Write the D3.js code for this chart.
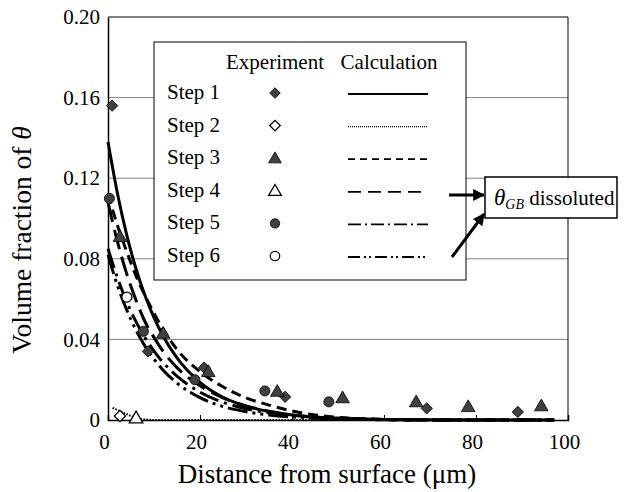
<!DOCTYPE html>
<html><head><meta charset="utf-8">
<script src="https://cdn.jsdelivr.net/npm/d3@7"></script>
<style>body{margin:0;background:#fff}svg{display:block}text{font-family:"Liberation Serif","Times New Roman",serif;fill:#000}</style>
</head><body><svg id="c" width="624" height="492"></svg>
<script>
// ---- data ----
const xTicks = [0, 20, 40, 60, 80, 100];
const yTicks = [0, 0.04, 0.08, 0.12, 0.16, 0.20];
const yTickLabels = ["0", "0.04", "0.08", "0.12", "0.16", "0.20"];
const stepNames = ["Step 1", "Step 2", "Step 3", "Step 4", "Step 5", "Step 6"];
const markerShapes = ["diamond", "diamond", "triangle", "triangle", "circle", "circle"];
const markerFilled = [true, false, true, false, true, false];

const exp1 = [[0.9,0.156],[8.7,0.034],[20.9,0.026],[38.5,0.0115],[69.3,0.0058],[89.1,0.004]];
const exp2 = [[2.6,0.002]];
const exp3 = [[2.6,0.091],[12,0.043],[21.8,0.024],[36.8,0.0142],[51,0.011],[67,0.009],[78.3,0.0066],[94.2,0.007]];
const exp4 = [[6.1,0.001]];
const exp5 = [[0.3,0.110],[7.7,0.044],[18.9,0.020],[34.1,0.0144],[48,0.009]];
const exp6 = [[4.1,0.061]];

const calcX = [0,2,4,6,8,10,12,15,20,25,30,35,40,45,50,55,60,70,80,97];
const calc1 = [0.138,0.113,0.0925,0.0757,0.062,0.0508,0.0416,0.0308,0.0187,0.0113,0.0069,0.0042,0.0025,0.0015,0.0009,0.0006,0.0003,0.0001,0,0];
const calc3 = [0.112,0.097,0.084,0.072,0.062,0.053,0.045,0.035,0.024,0.0165,0.011,0.0074,0.0045,0.0025,0.0013,0.0006,0.0002,0,0,0];
const calc4 = [0.108,0.089,0.073,0.060,0.049,0.041,0.034,0.026,0.017,0.011,0.007,0.0043,0.0025,0.0014,0.0007,0.0003,0.0001,0,0,0];
const calc5 = [0.085,0.0709,0.059,0.0492,0.041,0.0342,0.0285,0.0218,0.0138,0.0088,0.0056,0.0035,0.0022,0.0014,0.0009,0.0006,0.0003,0.0001,0,0];
const calc6 = [0.082,0.0671,0.055,0.045,0.0368,0.0302,0.0247,0.0183,0.0111,0.0067,0.0041,0.0025,0.0015,0.0009,0.0006,0.0003,0.0002,0,0,0];
const calc2X = [1,2,3,4,5,6,8,10,20,40,60,80,97];
const calc2 = [0.006,0.005,0.004,0.003,0.002,0.001,0.0003,0,0,0,0,0,0];

// ---- layout ----
const svg = d3.select("#c");
const L = 108, R = 568, T = 17, B = 420;
const x = d3.scaleLinear().domain([0, 100]).range([L, R]);
const y = d3.scaleLinear().domain([0, 0.20]).range([B, T]);
const FONT = "Liberation Serif";

// gridlines
svg.append("g").selectAll("line").data(yTicks.filter(v => v > 0 && v < 0.2)).join("line")
  .attr("x1", L).attr("x2", R).attr("y1", d => y(d)).attr("y2", d => y(d))
  .attr("stroke", "#808080").attr("stroke-width", 1);
svg.append("line").attr("x1", L).attr("x2", R).attr("y1", T).attr("y2", T).attr("stroke", "#000");
svg.append("line").attr("x1", R).attr("x2", R).attr("y1", T).attr("y2", B).attr("stroke", "#000");

// axes
const xAxis = d3.axisBottom(x).tickValues(xTicks).tickSize(-5).tickFormat(d => d);
const gx = svg.append("g").attr("transform", `translate(0,${B})`).call(xAxis);
gx.select(".domain").attr("stroke", "#000").attr("stroke-width", 1.5);
gx.selectAll(".tick text").attr("font-family", FONT).attr("font-size", 21).attr("dy", "1.25em").attr("dx", -4);
const yAxis = d3.axisLeft(y).tickValues(yTicks).tickSize(0).tickFormat((d, i) => yTickLabels[i]);
const gy = svg.append("g").attr("transform", `translate(${L},0)`).call(yAxis);
gy.select(".domain").attr("stroke", "#000").attr("stroke-width", 1.5);
gy.selectAll(".tick text").attr("font-family", FONT).attr("font-size", 21).attr("dx", -5);

// curves
const line = d3.line().x(d => x(d[0])).y(d => y(d[1])).curve(d3.curveMonotoneX);
const calcSeries = [
  {xs: calcX, ys: calc1, dash: null, w: 3},
  {xs: calc2X, ys: calc2, dash: "1.5,1.5", w: 2},
  {xs: calcX, ys: calc3, dash: "10,6", w: 3},
  {xs: calcX, ys: calc4, dash: "20,8", w: 3},
  {xs: calcX, ys: calc5, dash: "20,6,3,6", w: 3},
  {xs: calcX, ys: calc6, dash: "20,5,3,5,3,5", w: 3}
];
const legendDash = [null, "1,1", "7,5", "13,7", "13,4,2,4", "12,4,2,3,2,4"];
calcSeries.forEach(s => {
  const pts = s.xs.map((v, i) => [v, s.ys[i]]);
  svg.append("path").attr("d", line(pts)).attr("fill", "none").attr("stroke", "#000")
    .attr("stroke-width", s.w).attr("stroke-dasharray", s.dash);
});

// markers
function drawMarker(g, shape, filled, cx, cy, size) {
  const fill = filled ? "#404040" : "#fff";
  let sym, rot = 0;
  if (shape === "diamond") { sym = d3.symbol(d3.symbolSquare, size * 0.8); rot = 45; }
  else if (shape === "triangle") sym = d3.symbol(d3.symbolTriangle, size);
  else sym = d3.symbol(d3.symbolCircle, size);
  g.append("path").attr("d", sym())
    .attr("transform", `translate(${cx},${cy + (shape === "triangle" ? 1 : 0)}) rotate(${rot})`)
    .attr("fill", fill).attr("stroke", "#000").attr("stroke-width", filled ? 0.8 : 1.3);
}
const expSeries = [exp1, exp2, exp3, exp4, exp5, exp6];
const mg = svg.append("g");
expSeries.forEach((arr, i) => arr.forEach(p => drawMarker(mg, markerShapes[i], markerFilled[i], x(p[0]), y(p[1]), 80)));

// axis titles
svg.append("text").attr("x", 327).attr("y", 483).attr("text-anchor", "middle")
  .attr("font-family", FONT).attr("font-size", 27).text("Distance from surface (μm)");
const yt = svg.append("text").attr("transform", "translate(31,240) rotate(-90)").attr("text-anchor", "middle")
  .attr("font-family", FONT).attr("font-size", 27.5);
yt.append("tspan").text("Volume fraction of ");
yt.append("tspan").attr("font-style", "italic").text("θ");

// legend
const lg = svg.append("g");
lg.append("rect").attr("x", 154).attr("y", 42).attr("width", 312).attr("height", 238)
  .attr("fill", "#fff").attr("stroke", "#000").attr("stroke-width", 1);
lg.append("text").attr("x", 275).attr("y", 69).attr("text-anchor", "middle").attr("font-family", FONT).attr("font-size", 21).text("Experiment");
lg.append("text").attr("x", 389).attr("y", 69).attr("text-anchor", "middle").attr("font-family", FONT).attr("font-size", 21).text("Calculation");
stepNames.forEach((n, i) => {
  const cy = 92 + i * 32.6;
  lg.append("text").attr("x", 167).attr("y", cy + 7).attr("font-family", FONT).attr("font-size", 21).text(n);
  drawMarker(lg, markerShapes[i], markerFilled[i], 275, cy + 1, 70);
  lg.append("line").attr("x1", 348).attr("x2", 428).attr("y1", cy + 2).attr("y2", cy + 2)
    .attr("stroke", "#000").attr("stroke-width", i === 1 ? 1.2 : 1.8).attr("stroke-dasharray", legendDash[i]);
});

// annotation
const an = svg.append("g");
an.append("rect").attr("x", 485).attr("y", 177).attr("width", 132).attr("height", 41)
  .attr("fill", "#fff").attr("stroke", "#000").attr("stroke-width", 1.5);
const at = an.append("text").attr("x", 494).attr("y", 205).attr("font-family", FONT).attr("font-size", 21);
at.append("tspan").attr("font-style", "italic").attr("font-size", 23).text("θ");
at.append("tspan").attr("font-style", "italic").attr("font-size", 14).attr("dy", 4).text("GB");
at.append("tspan").attr("dy", -4).text(" dissoluted");
svg.append("defs").append("marker").attr("id", "ah").attr("viewBox", "0 0 10 10").attr("refX", 9).attr("refY", 5)
  .attr("markerWidth", 4).attr("markerHeight", 4).attr("orient", "auto")
  .append("path").attr("d", "M0,0L10,5L0,10z").attr("fill", "#000");
an.append("line").attr("x1", 449).attr("y1", 195).attr("x2", 484).attr("y2", 195)
  .attr("stroke", "#000").attr("stroke-width", 3).attr("marker-end", "url(#ah)");
an.append("line").attr("x1", 452).attr("y1", 257).attr("x2", 484).attr("y2", 214)
  .attr("stroke", "#000").attr("stroke-width", 3).attr("marker-end", "url(#ah)");
</script></body></html>
